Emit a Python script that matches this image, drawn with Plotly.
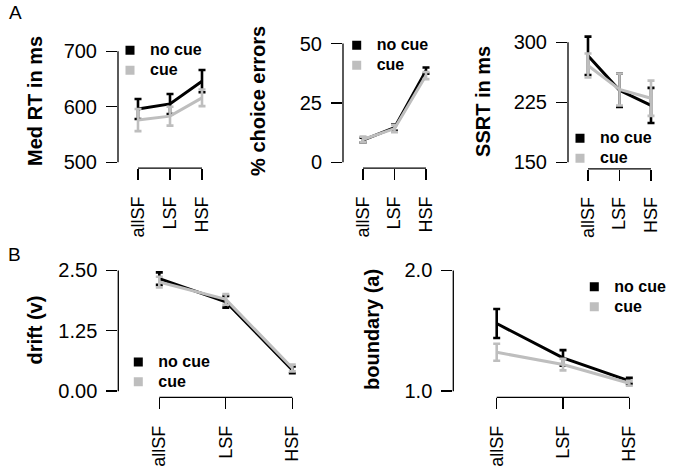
import plotly.graph_objects as go

W, H = 675, 475

categories = ["allSF", "LSF", "HSF"]
series_names = ["no cue", "cue"]

rt_nocue = [596, 605, 646]
rt_nocue_se = [18, 18, 20]
rt_cue = [576, 583, 616]
rt_cue_se = [20, 17, 15]

err_nocue = [9.3, 14.6, 38.6]
err_nocue_se = [1.0, 1.3, 1.3]
err_cue = [9.6, 14.2, 36.5]
err_cue_se = [1.2, 1.5, 1.5]

ssrt_nocue = [283, 240, 221]
ssrt_nocue_se = [24, 21, 22]
ssrt_cue = [271, 241, 230]
ssrt_cue_se = [15, 20, 22]

drift_nocue = [2.33, 1.85, 0.44]
drift_nocue_se = [0.13, 0.12, 0.07]
drift_cue = [2.26, 1.90, 0.48]
drift_cue_se = [0.11, 0.11, 0.07]

bound_nocue = [1.56, 1.275, 1.085]
bound_nocue_se = [0.12, 0.065, 0.025]
bound_cue = [1.322, 1.22, 1.065]
bound_cue_se = [0.07, 0.048, 0.02]

ytick_rt = [500, 600, 700]
ytick_err = [0, 25, 50]
ytick_ssrt = [150, 225, 300]
ytick_drift = [0.0, 1.25, 2.5]
ytick_drift_text = ["0.00", "1.25", "2.50"]
ytick_bound = [1.0, 2.0]
ytick_bound_text = ["1.0", "2.0"]

BLACK = "#000000"
GREY = "#bebebe"
FONT = "Liberation Sans, Arial, sans-serif"

panels = [
    dict(data=(rt_nocue, rt_nocue_se, rt_cue, rt_cue_se), yt=ytick_rt, ytt=None,
         title="Med RT in ms", tx=35, ty=102, ax=118, p0=138, p2=202, right=225,
         va=500, pa=164, vb=700, pb=51.7, xl=170, top=25,
         leg=(130, 47.7)),
    dict(data=(err_nocue, err_nocue_se, err_cue, err_cue_se), yt=ytick_err, ytt=None,
         title="% choice errors", tx=258, ty=102, ax=343, p0=363, p2=426, right=450,
         va=0, pa=164, vb=50, pb=44, xl=170, top=25,
         leg=(356.7, 42.7)),
    dict(data=(ssrt_nocue, ssrt_nocue_se, ssrt_cue, ssrt_cue_se), yt=ytick_ssrt, ytt=None,
         title="SSRT in ms", tx=483, ty=102, ax=568, p0=588, p2=651, right=672,
         va=150, pa=164, vb=300, pb=42.7, xl=170.7, top=25,
         leg=(580, 136.7)),
    dict(data=(drift_nocue, drift_nocue_se, drift_cue, drift_cue_se), yt=ytick_drift, ytt=ytick_drift_text,
         title="drift (v)", tx=35, ty=334, ax=118.3, p0=159.3, p2=292.3, right=315,
         va=0.0, pa=395.3, vb=2.5, pb=273.3, xl=401.7, top=255,
         leg=(138.3, 362.7)),
    dict(data=(bound_nocue, bound_nocue_se, bound_cue, bound_cue_se), yt=ytick_bound, ytt=ytick_bound_text,
         title="boundary (a)", tx=372, ty=333.5, ax=453.3, p0=496.7, p2=629.3, right=655,
         va=1.0, pa=395.3, vb=2.0, pb=273.3, xl=401.7, top=255,
         leg=(594.3, 286.7)),
]

fig = go.Figure()
layout = dict(width=W, height=H, margin=dict(l=0, r=0, t=0, b=0),
              paper_bgcolor="white", plot_bgcolor="white",
              font=dict(family=FONT, size=20, color="black"))
shapes = []
annotations = []

for i, p in enumerate(panels):
    k = "" if i == 0 else str(i + 1)
    xa, ya = "x" + k, "y" + k
    unit = (p["p2"] - p["p0"]) / 2.0
    xr = [-(p["p0"] - p["ax"]) / unit, 2 + (p["right"] - p["p2"]) / unit]
    s = (p["vb"] - p["va"]) / (p["pb"] - p["pa"])
    yr = [p["va"] + (p["xl"] - p["pa"]) * s, p["va"] + (p["top"] - p["pa"]) * s]
    layout["xaxis" + k] = dict(
        domain=[p["ax"] / W, p["right"] / W], range=xr, type="category",
        anchor=ya, showgrid=False, zeroline=False, showline=False,
        ticks="outside", ticklen=11, tickwidth=1.3, tickcolor="black",
        tickangle=-90, ticklabelstandoff=9,
        tickfont=dict(family=FONT, size=18, color="black"),
        categoryorder="array", categoryarray=categories)
    layout["yaxis" + k] = dict(
        domain=[1 - p["xl"] / H, 1 - p["top"] / H], range=yr,
        anchor=xa, showgrid=False, zeroline=False, showline=False,
        ticks="outside", ticklen=11, tickwidth=1.3, tickcolor="black",
        tickvals=p["yt"], ticktext=p["ytt"] if p["ytt"] else [str(v) for v in p["yt"]],
        ticklabelstandoff=5,
        tickfont=dict(family=FONT, size=20, color="black"))
    shapes.append(dict(type="line", xref=xa + " domain", yref=ya,
                       x0=0, x1=0, y0=p["yt"][0], y1=p["yt"][-1],
                       line=dict(color="black", width=1.3)))
    shapes.append(dict(type="line", xref=xa, yref=ya + " domain",
                       x0=categories[0], x1=categories[-1], y0=0, y1=0,
                       line=dict(color="black", width=1.3)))
    annotations.append(dict(text="<b>%s</b>" % p["title"], xref="paper", yref="paper",
                            x=p["tx"] / W, y=1 - p["ty"] / H,
                            textangle=-90, showarrow=False, xanchor="center", yanchor="middle",
                            font=dict(family=FONT, size=20, color="black")))
    leg = "legend" if i == 0 else "legend" + str(i + 1)
    n_y, n_se, c_y, c_se = p["data"]
    for name, yv, se, col in ((series_names[0], n_y, n_se, BLACK), (series_names[1], c_y, c_se, GREY)):
        fig.add_trace(go.Scatter(
            x=categories, y=yv, mode="lines", xaxis=xa, yaxis=ya,
            line=dict(color=col, width=3),
            error_y=dict(type="data", array=se, visible=True, color=col, thickness=2.6, width=3.5),
            showlegend=False, hoverinfo="skip"))
    for name, col in ((series_names[0], BLACK), (series_names[1], GREY)):
        fig.add_trace(go.Scatter(
            x=[None], y=[None], mode="markers", xaxis=xa, yaxis=ya,
            name='<span style="font-size:16px">%s</span>' % name,
            marker=dict(symbol="square", size=9, color=col), legend=leg, showlegend=True))
    lx, ly = p["leg"]
    layout[leg] = dict(x=(lx - 20) / W, y=1 - (ly - 12) / H, xanchor="left", yanchor="top",
                       bgcolor="rgba(0,0,0,0)", borderwidth=0, tracegroupgap=0,
                       font=dict(family=FONT, size=13, color="black", weight="bold"),
                       itemclick=False, itemdoubleclick=False)

annotations.append(dict(text="A", xref="paper", yref="paper", x=15 / W, y=1 - 13 / H,
                        showarrow=False, xanchor="center", yanchor="middle",
                        font=dict(family=FONT, size=19, color="black")))
annotations.append(dict(text="B", xref="paper", yref="paper", x=14 / W, y=1 - 257 / H,
                        showarrow=False, xanchor="center", yanchor="middle",
                        font=dict(family=FONT, size=19, color="black")))

layout["shapes"] = shapes
layout["annotations"] = annotations
layout["hovermode"] = False
fig.update_layout(**layout)
fig.write_html("out.html", config={"displayModeBar": False, "staticPlot": True},
               post_script="document.body.style.margin='0px';")
